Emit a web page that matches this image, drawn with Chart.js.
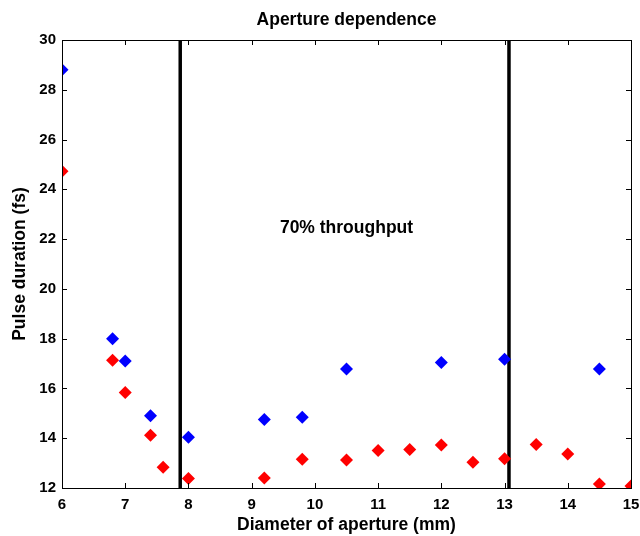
<!DOCTYPE html>
<html>
<head>
<meta charset="utf-8">
<script src="https://cdn.jsdelivr.net/npm/chart.js@4/dist/chart.umd.min.js"></script>
<style>
  html, body { margin: 0; padding: 0; background: #fff; }
  #wrap { width: 640px; height: 536px; }
</style>
</head>
<body>
<div id="wrap"><canvas id="chart" width="640" height="536"></canvas></div>
<script>
// data
const blueX = [6, 6.8, 7, 7.4, 8, 9.2, 9.8, 10.5, 12, 13, 14.5];
const blueY = [28.8, 18.0, 17.1, 14.9, 14.04, 14.75, 14.84, 16.78, 17.04, 17.17, 16.78];
const redX = [6, 6.8, 7, 7.4, 7.6, 8, 9.2, 9.8, 10.5, 11, 11.5, 12, 12.5, 13, 13.5, 14, 14.5, 15];
const redY = [24.73, 17.13, 15.84, 14.12, 12.83, 12.38, 12.4, 13.16, 13.12, 13.51, 13.55, 13.73, 13.03, 13.18, 13.75, 13.37, 12.16, 12.08];
const limitX = [7.87, 13.07];   // 70% throughput limits
const xTicks = [6, 7, 8, 9, 10, 11, 12, 13, 14, 15];
const yTicks = [12, 14, 16, 18, 20, 22, 24, 26, 28, 30];

const FONT = 'Liberation Sans, Arial, Helvetica, sans-serif';

const toPoints = (xs, ys) => xs.map((x, i) => ({ x: x, y: ys[i] }));

// box + inward ticks on all four sides, plus the annotation text
const boxPlugin = {
    id: 'box',
    afterDatasetsDraw(chart) {
        const { ctx, chartArea: a, scales } = chart;
        const len = 5;
        ctx.save();
        ctx.strokeStyle = '#000';
        ctx.lineWidth = 1;
        ctx.beginPath();
        xTicks.forEach(v => {
            const px = Math.round(scales.x.getPixelForValue(v)) + 0.5;
            ctx.moveTo(px, a.bottom); ctx.lineTo(px, a.bottom - len);
            ctx.moveTo(px, a.top); ctx.lineTo(px, a.top + len);
        });
        yTicks.forEach(v => {
            const py = Math.round(scales.y.getPixelForValue(v)) + 0.5;
            ctx.moveTo(a.left, py); ctx.lineTo(a.left + len, py);
            ctx.moveTo(a.right, py); ctx.lineTo(a.right - len, py);
        });
        ctx.stroke();
        ctx.strokeRect(Math.round(a.left) + 0.5, Math.round(a.top) + 0.5,
            Math.round(a.right - a.left), Math.round(a.bottom - a.top));

        ctx.fillStyle = '#000';
        ctx.font = 'bold 17.5px ' + FONT;
        ctx.textAlign = 'center';
        ctx.textBaseline = 'middle';
        ctx.fillText('70% throughput', scales.x.getPixelForValue(10.5), scales.y.getPixelForValue(22.45));
        ctx.restore();
    }
};

const limitSets = limitX.map(x => ({
    type: 'line',
    data: [{ x: x, y: 12 }, { x: x, y: 30 }],
    borderColor: '#000',
    borderWidth: 3.5,
    pointRadius: 0,
    showLine: true,
    order: 3
}));

new Chart(document.getElementById('chart'), {
    type: 'scatter',
    data: {
        datasets: [
            ...limitSets,
            {
                data: toPoints(blueX, blueY),
                backgroundColor: '#0000ff',
                borderWidth: 0,
                pointStyle: 'rectRot',
                pointRadius: 6.5,
                order: 1
            },
            {
                data: toPoints(redX, redY),
                backgroundColor: '#ff0000',
                borderWidth: 0,
                pointStyle: 'rectRot',
                pointRadius: 6.5,
                order: 2
            }
        ]
    },
    options: {
        responsive: false,
        animation: false,
        layout: { padding: { left: 0, right: 9, top: 0, bottom: 0 } },
        plugins: {
            legend: { display: false },
            tooltip: { enabled: false },
            title: {
                display: true,
                text: 'Aperture dependence',
                fullSize: false,
                color: '#000',
                font: { family: FONT, size: 17.5, weight: 'bold' },
                padding: { top: 10, bottom: 9 }
            }
        },
        scales: {
            x: {
                type: 'linear',
                min: 6,
                max: 15,
                afterFit: s => { s.height = 48; s.paddingLeft = 0; s.paddingRight = 0; },
                afterBuildTicks: s => { s.ticks = xTicks.map(v => ({ value: v })); },
                grid: { display: false, drawTicks: false },
                border: { display: false },
                ticks: {
                    color: '#000',
                    padding: 8,
                    font: { family: FONT, size: 15, weight: 'bold' },
                    maxRotation: 0
                },
                title: {
                    display: true,
                    text: 'Diameter of aperture (mm)',
                    color: '#000',
                    font: { family: FONT, size: 17.5, weight: 'bold' },
                    padding: { top: 0, bottom: 0 }
                }
            },
            y: {
                type: 'linear',
                min: 12,
                max: 30,
                afterFit: s => { s.width = 62; s.paddingTop = 0; s.paddingBottom = 0; },
                afterBuildTicks: s => { s.ticks = yTicks.map(v => ({ value: v })); },
                grid: { display: false, drawTicks: false },
                border: { display: false },
                ticks: {
                    color: '#000',
                    padding: 6,
                    font: { family: FONT, size: 15, weight: 'bold' }
                },
                title: {
                    display: true,
                    text: 'Pulse duration (fs)',
                    color: '#000',
                    font: { family: FONT, size: 17.5, weight: 'bold' },
                    padding: { top: 10, bottom: 0 }
                }
            }
        }
    },
    plugins: [boxPlugin]
});
</script>
</body>
</html>
